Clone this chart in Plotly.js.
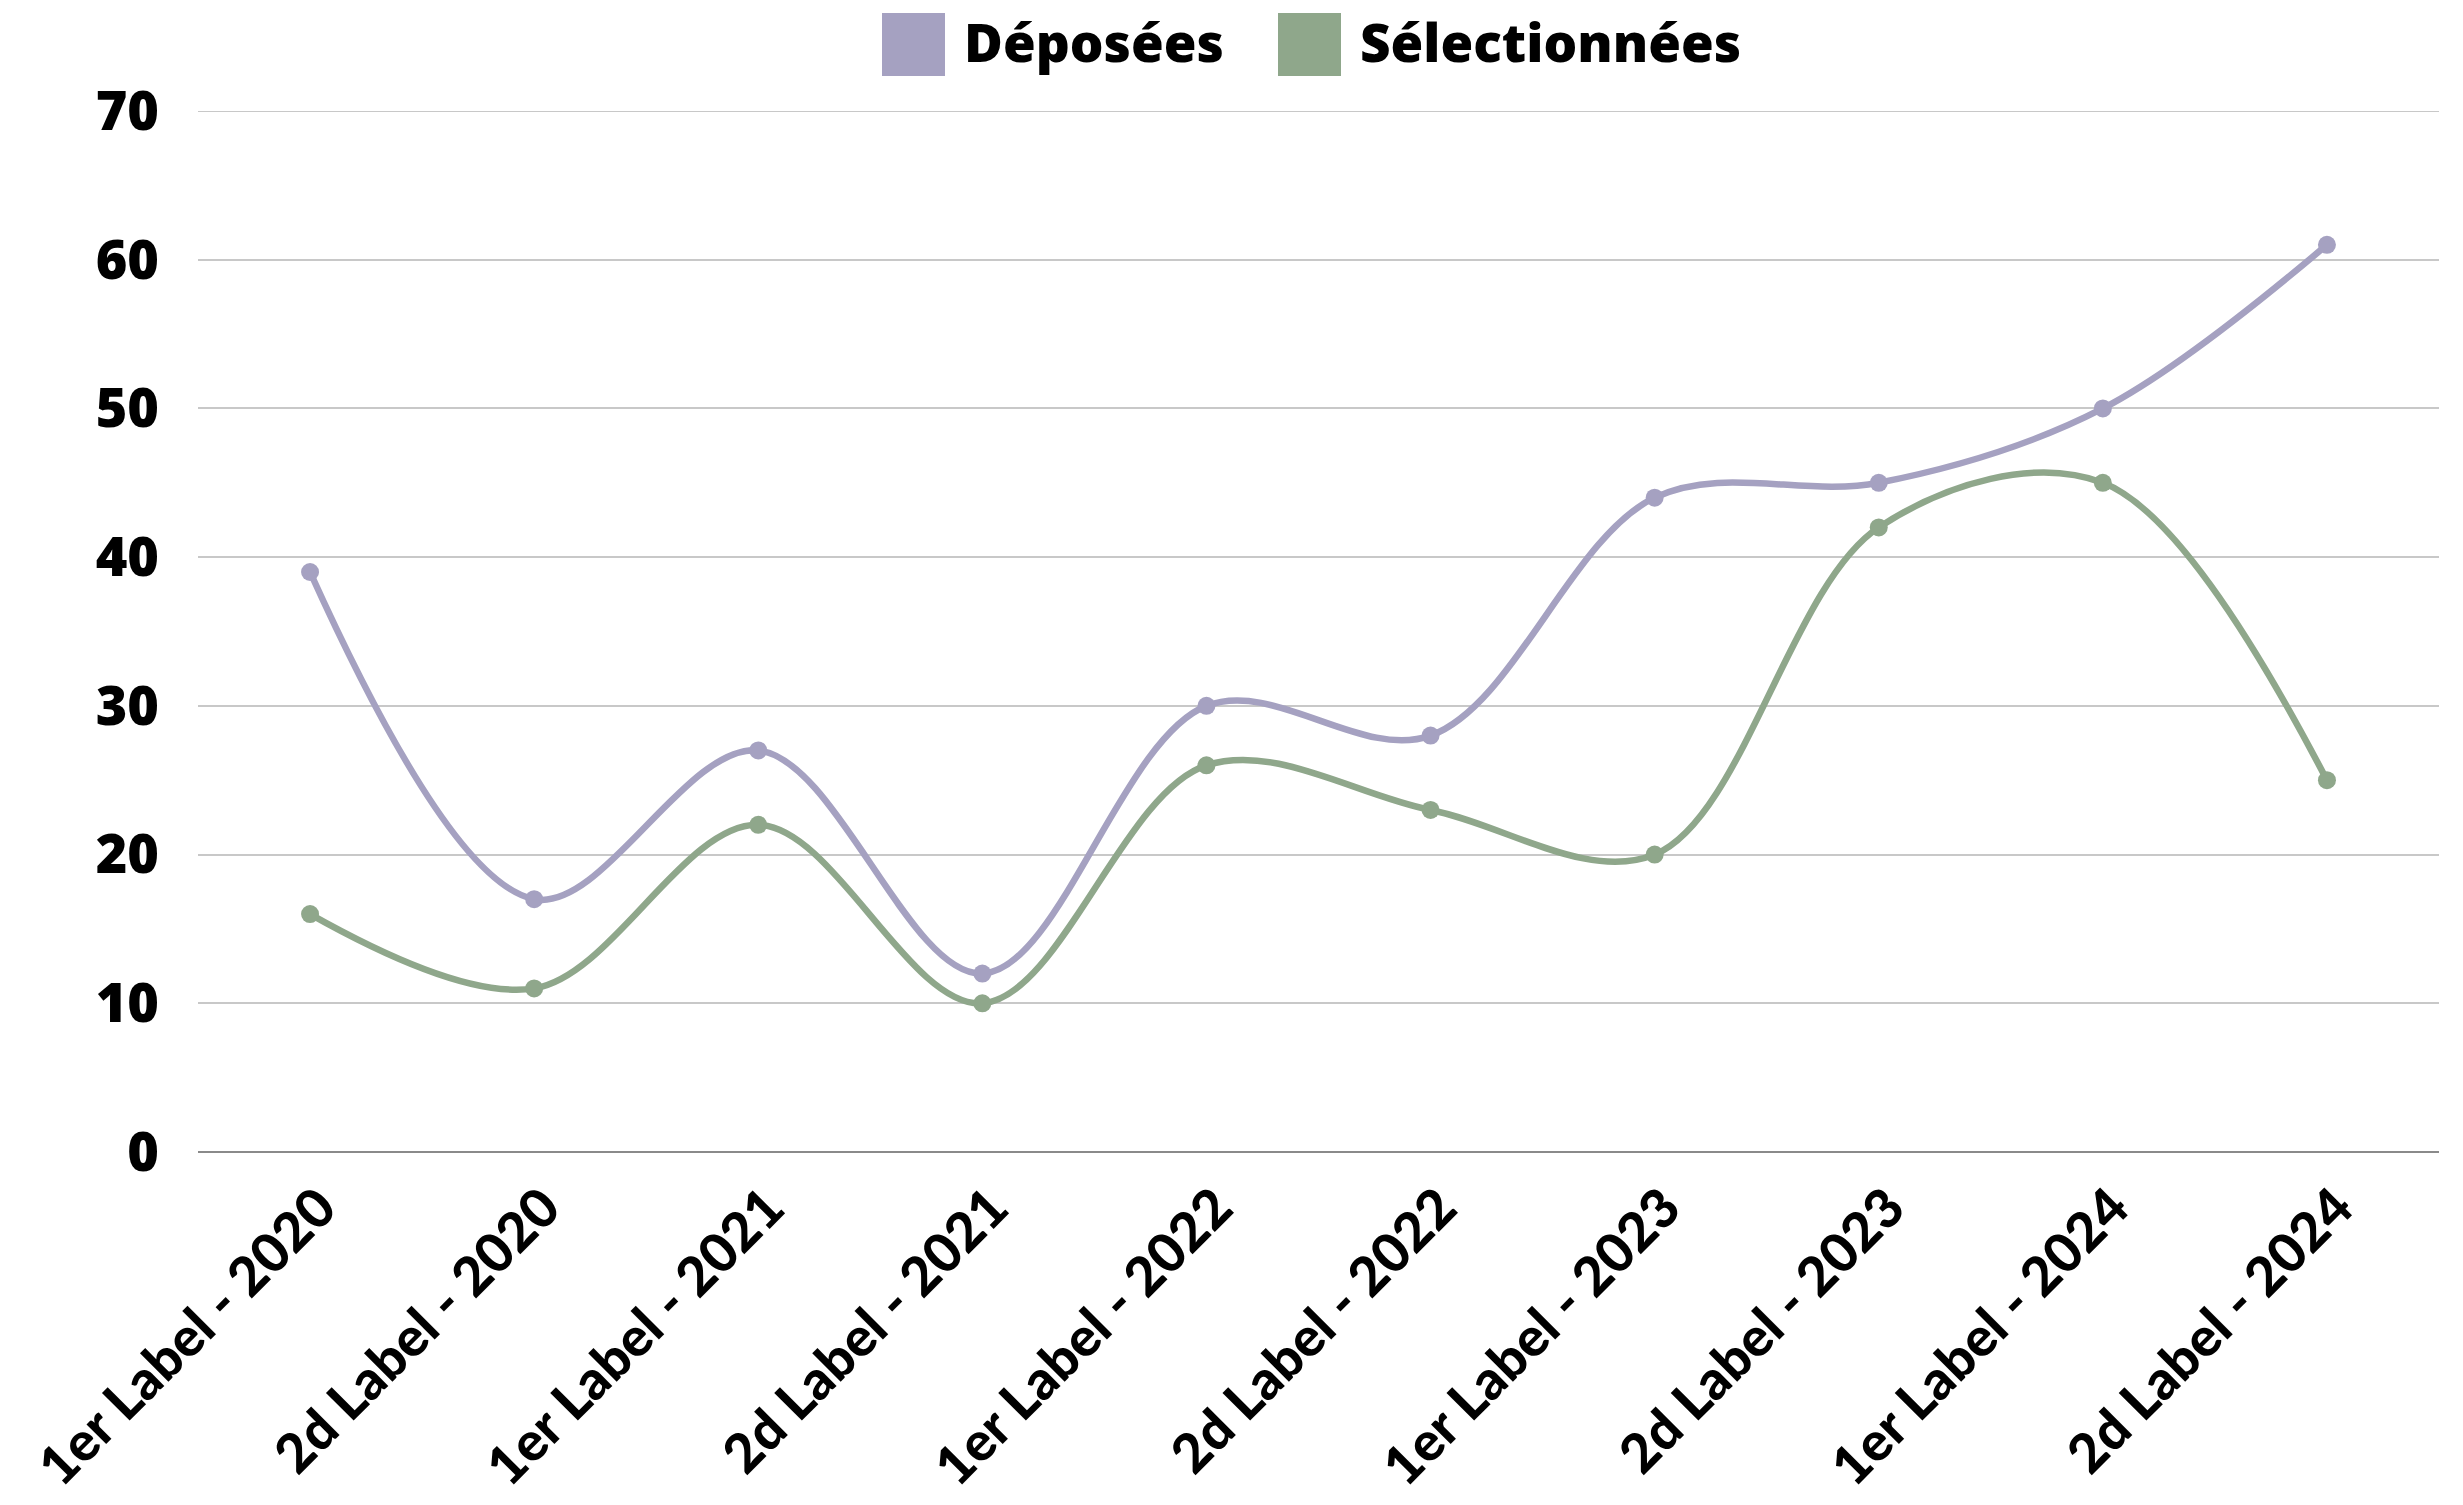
<!DOCTYPE html>
<html>
<head>
<meta charset="utf-8">
<script src="https://cdn.plot.ly/plotly-3.0.1.min.js"></script>
<style>html,body{margin:0;padding:0;background:#fff;}#chart{width:2463px;height:1505px;}</style>
</head>
<body>
<div id="chart"></div>
<script>
const categories = ["1er Label - 2020","2d Label - 2020","1er Label - 2021","2d Label - 2021","1er Label - 2022","2d Label - 2022","1er Label - 2023","2d Label - 2023","1er Label - 2024","2d Label - 2024"];
const deposees = [39, 17, 27, 12, 30, 28, 44, 45, 50, 61];
const selectionnees = [16, 11, 22, 10, 26, 23, 20, 42, 45, 25];
const seriesNames = ["Déposées", "Sélectionnées"];
const colors = ["#a5a1c1", "#8fa78b"];
const yTicks = [0, 10, 20, 30, 40, 50, 60, 70];

const W = 2463, H = 1505;
const M = {l: 198, r: 24, t: 111, b: 353};
const pw = W - M.l - M.r, ph = H - M.t - M.b;
const px = x => (x - M.l) / pw;
const py = y => (H - M.b - y) / ph;

const FONT = "'Open Sans', 'Noto Sans', sans-serif";
const XFONT = "Lato, 'Open Sans', sans-serif";

const traces = [deposees, selectionnees].map((vals, i) => ({
  type: 'scatter', mode: 'lines+markers', name: seriesNames[i],
  x: categories, y: vals,
  line: {color: colors[i], width: 6.5, shape: 'spline', smoothing: 1},
  marker: {color: colors[i], size: 18},
  showlegend: false, cliponaxis: false
}));

// custom legend (squares + labels)
const legendItems = [
  {sq: [882, 945], tx: 962},
  {sq: [1278, 1341], tx: 1358}
];
const shapes = legendItems.map((it, i) => ({
  type: 'rect', xref: 'paper', yref: 'paper',
  x0: px(it.sq[0]), x1: px(it.sq[1]), y0: py(76), y1: py(13),
  fillcolor: colors[i], line: {width: 0}
}));
// top gridline (at the edge of the plot area)
shapes.push({
  type: 'line', xref: 'paper', yref: 'y', x0: 0, x1: 1,
  y0: yTicks[yTicks.length - 1], y1: yTicks[yTicks.length - 1],
  line: {color: '#c8c8c8', width: 2}, layer: 'below'
});
const annotations = legendItems.map((it, i) => ({
  xref: 'paper', yref: 'paper', x: px(it.tx), y: py(42),
  xanchor: 'left', yanchor: 'middle', showarrow: false,
  text: seriesNames[i],
  font: {family: FONT, size: 53, color: '#000', weight: 800}
}));

const layout = {
  width: W, height: H,
  margin: M,
  paper_bgcolor: '#fff', plot_bgcolor: '#fff',
  showlegend: false,
  font: {family: FONT, color: '#000'},
  xaxis: {
    type: 'category', range: [-0.5, 9.5],
    tickangle: -45, showgrid: false, zeroline: false, showline: false,
    ticks: '', ticklabelstandoff: 12, ticklabelshift: 10,
    tickfont: {family: XFONT, size: 54, color: '#000', weight: 900}
  },
  yaxis: {
    range: [0, 70], tickvals: yTicks, ticktext: yTicks.map(String),
    showgrid: true, gridcolor: '#c8c8c8', gridwidth: 2,
    zeroline: true, zerolinecolor: '#8a8a8a', zerolinewidth: 2,
    showline: false, ticks: '', ticklabelstandoff: 38,
    tickfont: {family: FONT, size: 54, color: '#000', weight: 800}
  },
  shapes: shapes,
  annotations: annotations
};

Plotly.newPlot('chart', traces, layout, {displayModeBar: false, staticPlot: true});
</script>
</body>
</html>
